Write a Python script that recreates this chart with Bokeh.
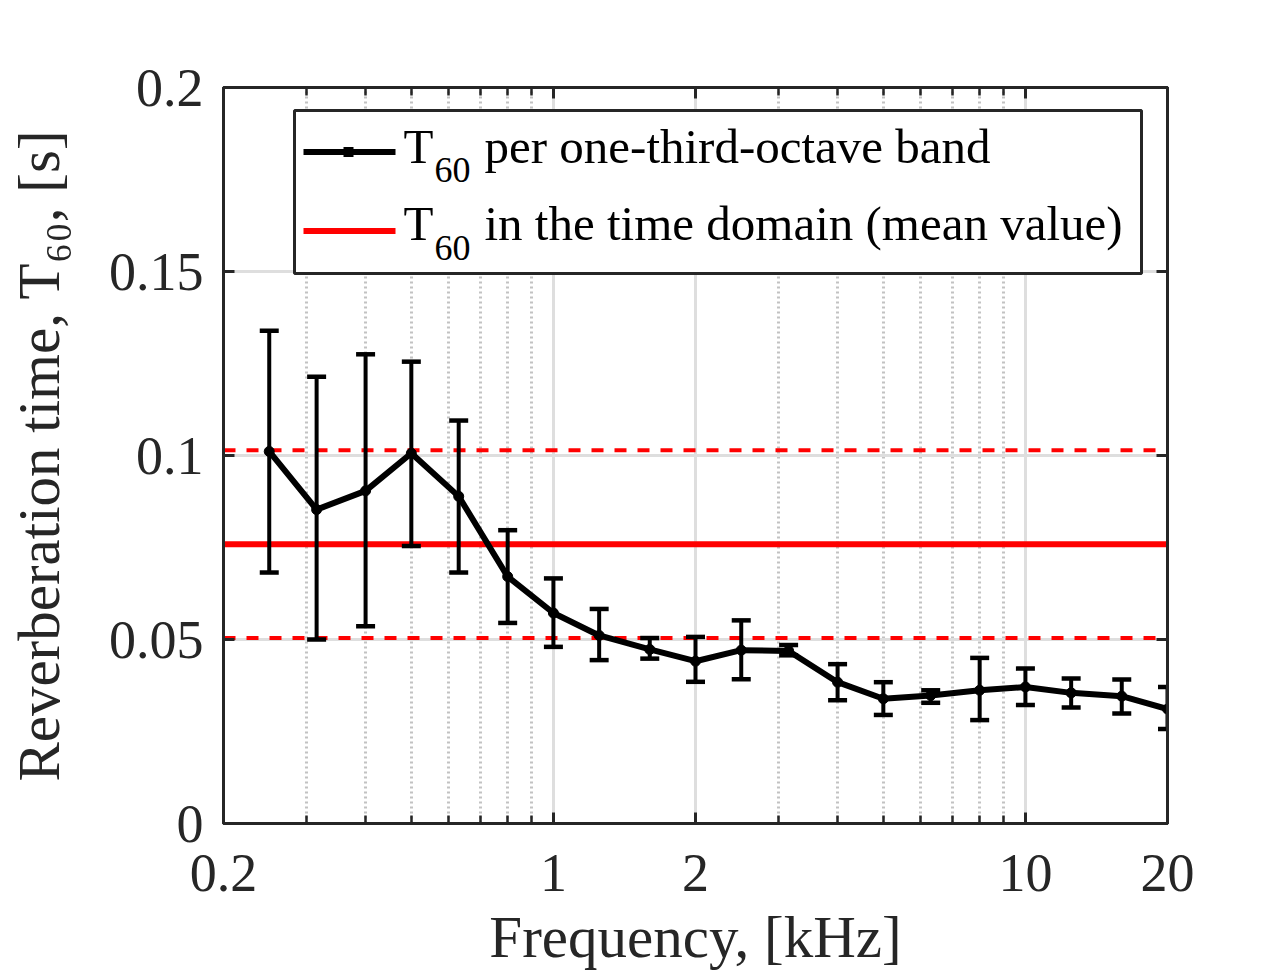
from bokeh.plotting import figure
from bokeh.models import (FixedTicker, LogAxis, LinearAxis, Label, BoxAnnotation,
                          CustomJSTickFormatter, Range1d)
from bokeh.embed import file_html
from bokeh.resources import INLINE

# ---------------- data ----------------
freq_khz = [0.25, 0.315, 0.4, 0.5, 0.63, 0.8, 1, 1.25, 1.6, 2, 2.5, 3.15, 4, 5, 6.3, 8, 10, 12.5, 16, 20]
t60_band = [0.1011, 0.0853, 0.0904, 0.1006, 0.0889, 0.0671, 0.0572, 0.0511, 0.0473, 0.0441,
            0.0471, 0.0469, 0.0384, 0.0339, 0.0348, 0.0362, 0.0371, 0.0355, 0.0346, 0.0311]
t60_upper = [0.1339, 0.1214, 0.1275, 0.1255, 0.1095, 0.0797, 0.0666, 0.0583, 0.0504, 0.0507,
             0.0552, 0.0485, 0.0433, 0.0384, 0.0362, 0.0450, 0.0421, 0.0394, 0.0391, 0.0371]
t60_lower = [0.0682, 0.0500, 0.0536, 0.0754, 0.0682, 0.0545, 0.0480, 0.0444, 0.0448, 0.0385,
             0.0392, 0.0457, 0.0335, 0.0295, 0.0328, 0.0281, 0.0322, 0.0315, 0.0299, 0.0257]
t60_time_mean = 0.0759
t60_time_std = 0.0255

x_range_lim = [0.2, 20]
y_range_lim = [0, 0.2]
x_ticks = [0.2, 1, 2, 10, 20]
x_tick_labels = ["0.2", "1", "2", "10", "20"]
x_minor_ticks = [0.3, 0.4, 0.5, 0.6, 0.7, 0.8, 0.9, 3, 4, 5, 6, 7, 8, 9]
y_ticks = [0, 0.05, 0.1, 0.15, 0.2]
y_tick_labels = ["0", "0.05", "0.1", "0.15", "0.2"]

legend_labels = ["per one-third-octave band", "in the time domain (mean value)"]
x_label = "Frequency, [kHz]"
y_label = "Reverberation time, T\u2086\u2080, [s]"

# ---------------- style ----------------
FONT = "Liberation Serif"
AX = "#262626"
RED = "#ff0000"

FL, FT = 223, 87          # frame offsets inside canvas
FW, FH = 944, 737
W, H = 1280, 972
FRAME_LEFT = FL
FRAME_BOTTOM = FT + FH


def sx(X):
    return X - FRAME_LEFT


def sy(Y):
    return FRAME_BOTTOM - Y


p = figure(width=W, height=H, x_axis_type="log",
           x_range=Range1d(*x_range_lim), y_range=Range1d(*y_range_lim),
           output_backend="svg", toolbar_location=None,
           min_border_left=FL, min_border_right=W - FL - FW,
           min_border_top=FT, min_border_bottom=H - FT - FH,
           background_fill_color="white", border_fill_color="white")

fmt_code = """
for (let i = 0; i < tvals.length; i++) {
  if (Math.abs(tvals[i] - tick) < 1e-9) { return tlabels[i]; }
}
return '';
"""

xticker = FixedTicker(ticks=x_ticks, minor_ticks=x_minor_ticks)
yticker = FixedTicker(ticks=y_ticks, minor_ticks=[])

bottom_axis = p.xaxis[0]
left_axis = p.yaxis[0]
bottom_axis.ticker = xticker
bottom_axis.formatter = CustomJSTickFormatter(args=dict(tvals=x_ticks, tlabels=x_tick_labels), code=fmt_code)
left_axis.ticker = yticker
left_axis.formatter = CustomJSTickFormatter(args=dict(tvals=y_ticks, tlabels=y_tick_labels), code=fmt_code)

top_axis = LogAxis(ticker=xticker, formatter=CustomJSTickFormatter(code="return '';"))
right_axis = LinearAxis(ticker=yticker, formatter=CustomJSTickFormatter(code="return '';"))
p.add_layout(top_axis, "above")
p.add_layout(right_axis, "right")

for ax in [bottom_axis, left_axis, top_axis, right_axis]:
    ax.axis_line_color = AX
    ax.axis_line_width = 3
    ax.major_tick_line_color = AX
    ax.major_tick_line_width = 3
    ax.major_tick_in = 11
    ax.major_tick_out = 0
    ax.minor_tick_line_color = AX
    ax.minor_tick_line_width = 2.5
    ax.minor_tick_in = 8
    ax.minor_tick_out = 0
    ax.major_label_text_font = FONT
    ax.major_label_text_color = AX
    ax.major_label_text_font_size = "54px"
    ax.major_label_standoff = 20
    ax.axis_label_text_font = FONT
    ax.axis_label_text_font_style = "normal"
    ax.axis_label_text_color = AX
    ax.axis_label_text_font_size = "59px"
for ax in [top_axis, right_axis]:
    ax.major_label_text_font_size = "1px"
    ax.major_label_standoff = 0

bottom_axis.axis_label = x_label
bottom_axis.major_label_standoff = 31
bottom_axis.axis_label_standoff = 10
left_axis.axis_label = y_label
left_axis.axis_label_standoff = 34

p.xgrid.ticker = xticker
p.ygrid.ticker = yticker
p.xgrid.grid_line_color = "#dedede"
p.xgrid.grid_line_width = 3
p.xgrid.minor_grid_line_color = "#c2c2c2"
p.xgrid.minor_grid_line_width = 3
p.xgrid.minor_grid_line_dash = "2 3"
p.ygrid.grid_line_color = "#dedede"
p.ygrid.grid_line_width = 3

p.outline_line_color = AX
p.outline_line_width = 3

# ---------------- red reference lines ----------------
p.line(x_range_lim, [t60_time_mean] * 2, line_color=RED, line_width=6)
p.line(x_range_lim, [t60_time_mean + t60_time_std] * 2, line_color=RED, line_width=4, line_dash="12 11")
p.line(x_range_lim, [t60_time_mean - t60_time_std] * 2, line_color=RED, line_width=4, line_dash="12 11")

# ---------------- error bars and data ----------------
p.segment(x0=freq_khz, y0=t60_lower, x1=freq_khz, y1=t60_upper, line_color="black", line_width=4)
p.scatter(freq_khz, t60_upper, marker="dash", size=19, line_color="black", line_width=4.5)
p.scatter(freq_khz, t60_lower, marker="dash", size=19, line_color="black", line_width=4.5)
p.line(freq_khz, t60_band, line_color="black", line_width=6, line_join="round")
p.scatter(freq_khz, t60_band, marker="circle", size=10, fill_color="black", line_color="black")


# ---------------- legend (built by hand for subscripts) ----------------
def box(l, r, t, b, **kw):
    return BoxAnnotation(left=sx(l), right=sx(r), top=sy(t), bottom=sy(b),
                         left_units="screen", right_units="screen", top_units="screen", bottom_units="screen",
                         fill_alpha=1, line_alpha=1, level="annotation", **kw)


p.add_layout(box(294, 1141, 111, 274, fill_color="white", line_color=AX, line_width=3))
p.add_layout(box(303, 395, 149.5, 155.5, fill_color="black", line_color=None))
p.add_layout(box(343, 353, 147.5, 157.5, fill_color="black", line_color=None))
p.add_layout(box(303, 395, 228.5, 234.5, fill_color=RED, line_color=None))


def label(X, Y, text, size, color="black", align="left"):
    return Label(x=sx(X), y=sy(Y), x_units="screen", y_units="screen", text=text,
                 text_font=FONT, text_font_size=size, text_color=color,
                 text_align=align, text_baseline="alphabetic")


for row, (base, sub_base) in enumerate([(147, 170), (224, 248)]):
    p.add_layout(label(403, base, "T", "49px"))
    p.add_layout(label(434, sub_base, "60", "36px"))
    p.add_layout(label(484, base, legend_labels[row], "49px"))

open("out.html", "w").write(file_html(p, INLINE))
